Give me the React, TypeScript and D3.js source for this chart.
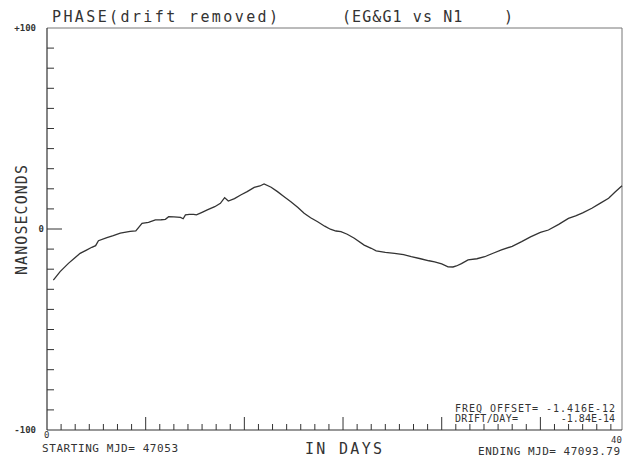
import React from 'react';
import * as d3 from 'd3';

// elapsed days since MJD 47053, and phase residual in ns
const days = [
  0.45, 0.93, 1.52, 1.9, 2.35, 2.8, 3.18, 3.45, 3.65, 4.25, 4.7, 5.2, 5.9, 6.3, 6.74, 7.2, 7.69,
  8.1, 8.4, 8.63, 9.0, 9.47, 9.66, 9.82, 10.1, 10.4, 10.6, 11.0, 11.37, 11.9, 12.3, 12.6, 12.86,
  13.3, 13.74, 14.2, 14.7, 15.1, 15.4, 15.9, 16.35, 16.8, 17.3, 17.8, 18.24, 18.7, 19.2, 19.7,
  20.1, 20.5, 20.85, 21.3, 21.8, 22.5, 23.0, 23.35, 24.0, 24.65, 25.3, 25.84, 26.5, 27.1, 27.5,
  28.0, 28.45, 28.8, 29.04, 29.4, 29.87, 30.5, 31.05, 31.6, 32.24, 33.0, 33.67, 34.3, 35.0,
  35.57, 36.3, 36.99, 37.5, 38.0, 38.65, 39.2, 39.84, 40.3, 40.79,
];
const phaseNs = [
  -25.4, -21.2, -17.1, -14.8, -12.1, -10.5, -9.1, -8.3, -5.8, -4.3, -3.3, -2.1, -1.2, -0.9, 2.8, 3.3, 4.5,
  4.6, 4.8, 6.1, 6.0, 5.8, 5.1, 7.0, 7.3, 7.3, 7.0, 8.3, 9.5, 11.1, 12.8, 15.6, 13.9,
  15.1, 16.9, 18.6, 20.7, 21.4, 22.4, 20.8, 18.6, 16.2, 13.6, 10.7, 7.8, 5.6, 3.6, 1.4,
  -0.1, -1.0, -1.3, -2.6, -4.6, -8.0, -9.6, -10.9, -11.6, -12.1, -12.8, -13.8, -14.8, -15.8, -16.3,
  -17.4, -18.8, -18.9, -18.4, -17.2, -15.4, -14.8, -13.8, -12.2, -10.4, -8.6, -6.3, -3.9, -1.7,
  -0.5, 2.3, 5.3, 6.5, 8.0, 10.3, 12.6, 15.3, 18.4, 21.5,
];

const minorDays = d3.range(1, 41);
const majorDays = [7, 14, 21, 28, 35];
const yTicks = d3.range(-90, 100, 10);
const yLabels = ['+100', '0', '-100'];
const yLabelValues = [100, 0, -100];

const W = 627;
const H = 458;
const ink = '#333';
const font = "'DejaVu Sans Mono', 'Liberation Mono', monospace";

export default function App() {
  const x = d3.scaleLinear().domain([0, 40.79]).range([47, 622]);
  const y = d3.scaleLinear().domain([-100, 100]).range([430, 28]);

  const line = d3
    .line<number>()
    .x((d, i) => x(days[i]))
    .y((d) => y(d));

  return (
    <svg
      width={W}
      height={H}
      style={{ position: 'absolute', left: 0, top: 0, background: '#fff' }}
      fontFamily={font}
      fill={ink}
    >
      {/* frame */}
      <line x1={x(0)} x2={x(40.79)} y1={y(100)} y2={y(100)} stroke="#777" strokeWidth={1} />
      <line x1={x(40.79)} x2={x(40.79)} y1={y(100)} y2={y(-100)} stroke="#777" strokeWidth={1} />
      <line x1={x(0)} x2={x(0)} y1={y(100)} y2={y(-100)} stroke={ink} strokeWidth={1.2} />
      <line x1={x(0)} x2={x(40.79)} y1={y(-100)} y2={y(-100)} stroke={ink} strokeWidth={1.2} />

      {/* y ticks */}
      {yTicks.map((v) => (
        <line
          key={v}
          x1={x(0)}
          x2={x(0) + (v === 0 ? 15 : 7)}
          y1={y(v)}
          y2={y(v)}
          stroke={ink}
          strokeWidth={1}
        />
      ))}
      {yLabels.map((t, i) => (
        <text
          key={t}
          x={x(0) - (yLabelValues[i] === 0 ? 3 : 11)}
          y={y(yLabelValues[i])}
          dy="0.35em"
          fontSize={9}
          fontWeight="bold"
          textAnchor="end"
        >
          {t}
        </text>
      ))}

      {/* x ticks */}
      {minorDays.map((d) => (
        <line
          key={d}
          x1={x(d)}
          x2={x(d)}
          y1={y(-100)}
          y2={y(-100) - (majorDays.includes(d) ? 13 : 6)}
          stroke={ink}
          strokeWidth={1}
        />
      ))}

      {/* data */}
      <path d={line(phaseNs) || ''} fill="none" stroke={ink} strokeWidth={1.3} />

      {/* texts */}
      <text x={52} y={22} fontSize={15} textLength={226} lengthAdjust="spacing">
        PHASE(drift removed)
      </text>
      <text x={342} y={22} fontSize={15} textLength={171} lengthAdjust="spacing" style={{ whiteSpace: 'pre' }}>
        (EG&amp;G1 vs N1    )
      </text>
      <text
        transform="translate(27,220) rotate(-90)"
        textAnchor="middle"
        fontSize={15}
        textLength={110}
        lengthAdjust="spacing"
      >
        NANOSECONDS
      </text>
      <text x={x(0) - 3} y={438} fontSize={9}>0</text>
      <text x={x(40) + 11} y={443} fontSize={9} textAnchor="end">40</text>
      <text x={42} y={452} fontSize={11} textLength={136} lengthAdjust="spacing">
        STARTING MJD= 47053
      </text>
      <text x={305} y={454} fontSize={15} textLength={77} lengthAdjust="spacing">
        IN DAYS
      </text>
      <text x={478} y={455} fontSize={11} textLength={142} lengthAdjust="spacing">
        ENDING MJD= 47093.79
      </text>
      <text x={455} y={412} fontSize={10} textLength={160} lengthAdjust="spacing" style={{ whiteSpace: 'pre' }}>
        FREQ OFFSET= -1.416E-12
      </text>
      <text x={455} y={422} fontSize={10} textLength={63} lengthAdjust="spacing">
        DRIFT/DAY=
      </text>
      <text x={615} y={422} fontSize={10} textAnchor="end">
        -1.84E-14
      </text>
    </svg>
  );
}
